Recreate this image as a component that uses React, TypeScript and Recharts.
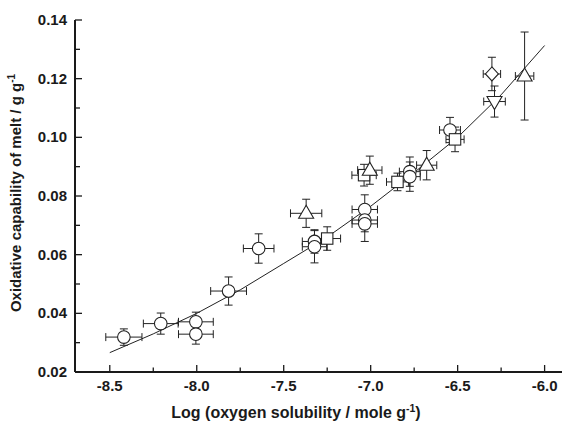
import { ScatterChart, Scatter, XAxis, YAxis, ErrorBar, Label } from 'recharts';

// [x, y, xErr, yErr]
const circles: [number, number, number, number][] = [
  [-8.419, 0.0319, 0.104, 0.0028],
  [-8.207, 0.0365, 0.1, 0.0036],
  [-8.005, 0.0371, 0.1, 0.0033],
  [-8.005, 0.0329, 0.1, 0.0034],
  [-7.817, 0.0476, 0.103, 0.0048],
  [-7.644, 0.0621, 0.088, 0.005],
  [-7.323, 0.0645, 0.07, 0.004],
  [-7.323, 0.0627, 0.07, 0.0055],
  [-7.034, 0.0754, 0.073, 0.005],
  [-7.034, 0.0718, 0.073, 0.004],
  [-7.034, 0.0705, 0.073, 0.006],
  [-6.775, 0.0883, 0.06, 0.005],
  [-6.775, 0.0866, 0.06, 0.005],
  [-6.544, 0.1025, 0.06, 0.0043],
];
const squares: [number, number, number, number][] = [
  [-7.25, 0.0655, 0.077, 0.004],
  [-7.038, 0.0871, 0.07, 0.0037],
  [-6.846, 0.0848, 0.063, 0.003],
  [-6.515, 0.0993, 0.052, 0.0042],
];
const trianglesUp: [number, number, number, number][] = [
  [-7.371, 0.0741, 0.09, 0.0048],
  [-7.005, 0.0888, 0.07, 0.0048],
  [-6.678, 0.0905, 0.058, 0.005],
  [-6.115, 0.1209, 0.053, 0.015],
];
const trianglesDown: [number, number, number, number][] = [[-6.288, 0.1122, 0.062, 0.0053]];
const diamonds: [number, number, number, number][] = [[-6.303, 0.1216, 0.05, 0.0057]];

// fitted curve, read at regular x positions
const fitX = [-8.5, -8.25, -8.0, -7.75, -7.5, -7.25, -7.0, -6.75, -6.5, -6.25, -6.0];
const fitY = [0.0266, 0.033, 0.04, 0.048, 0.057, 0.066, 0.0765, 0.088, 0.1, 0.1145, 0.1313];

const xTicks = [-8.5, -8.25, -8.0, -7.75, -7.5, -7.25, -7.0, -6.75, -6.5, -6.25, -6.0];
const xLabels = [-8.5, -8.0, -7.5, -7.0, -6.5, -6.0];
const yTicks = [0.02, 0.03, 0.04, 0.05, 0.06, 0.07, 0.08, 0.09, 0.1, 0.11, 0.12, 0.13, 0.14];
const yLabels = [0.02, 0.04, 0.06, 0.08, 0.1, 0.12, 0.14];

const W = 562;
const H = 424;
const PLOT_LEFT = 75;
const PLOT_TOP = 20;
const PLOT_BOTTOM = 372;
const FONT = '"Liberation Sans", Arial, Helvetica, sans-serif';
const INK = '#1a1a1a';

const toRows = (pts: [number, number, number, number][]) =>
  pts.map(([x, y, ex, ey]) => ({ x, y, ex, ey }));
const fitRows = fitX.map((x, i) => ({ x, y: fitY[i] }));

const has = (list: number[], v: number) => list.some((t) => Math.abs(t - v) < 1e-6);

const XTick = (props: any) => {
  const { x, payload } = props;
  const major = has(xLabels, payload.value);
  return (
    <g>
      <line x1={x} x2={x} y1={PLOT_BOTTOM} y2={PLOT_BOTTOM - (major ? 7 : 4.5)} stroke={INK} strokeWidth={1.3} />
      {major && (
        <text x={x} y={PLOT_BOTTOM + 19} textAnchor="middle" fontFamily={FONT} fontWeight="bold" fontSize={15} fill={INK}>
          {payload.value.toFixed(1)}
        </text>
      )}
    </g>
  );
};

const YTick = (props: any) => {
  const { y, payload } = props;
  const major = has(yLabels, payload.value);
  return (
    <g>
      <line x1={PLOT_LEFT} x2={PLOT_LEFT + (major ? 7 : 5)} y1={y} y2={y} stroke={INK} strokeWidth={1.3} />
      {major && (
        <text x={67} y={y + 5} textAnchor="end" fontFamily={FONT} fontWeight="bold" fontSize={15} fill={INK}>
          {payload.value.toFixed(2)}
        </text>
      )}
    </g>
  );
};

const renderXTitle = () => (
  <text x={296} y={418} textAnchor="middle" fontFamily={FONT} fontWeight="bold" fontSize={16} fill={INK}>
    Log (oxygen solubility / mole g
    <tspan dy={-6} fontSize={10.5}>-1</tspan>
    <tspan dy={6}>)</tspan>
  </text>
);

const renderYTitle = () => (
  <text
    transform="rotate(-90)"
    x={-193}
    y={21}
    textAnchor="middle"
    fontFamily={FONT}
    fontWeight="bold"
    fontSize={15}
    fill={INK}
  >
    Oxidative capability of melt / g g
    <tspan dy={-6} fontSize={10}>-1</tspan>
  </text>
);

const markerStyle = { fill: '#fff', stroke: '#222', strokeWidth: 1.1 };

const makeShape = (kind: string) => (props: any) => {
  const { cx, cy } = props;
  if (cx == null || cy == null) return <g />;
  switch (kind) {
    case 'circle':
      return <circle cx={cx} cy={cy} r={6.3} {...markerStyle} />;
    case 'square':
      return <rect x={cx - 5.7} y={cy - 5.7} width={11.4} height={11.4} {...markerStyle} />;
    case 'up':
      return <polygon points={`${cx},${cy - 8} ${cx + 7.5},${cy + 5} ${cx - 7.5},${cy + 5}`} {...markerStyle} />;
    case 'down':
      return <polygon points={`${cx},${cy + 8} ${cx + 7.5},${cy - 5} ${cx - 7.5},${cy - 5}`} {...markerStyle} />;
    case 'diamond':
      return <polygon points={`${cx},${cy - 7} ${cx + 6.5},${cy} ${cx},${cy + 7} ${cx - 6.5},${cy}`} {...markerStyle} />;
    default:
      return <g />;
  }
};

const groups: { name: string; kind: string; pts: [number, number, number, number][] }[] = [
  { name: 'circles', kind: 'circle', pts: circles },
  { name: 'squares', kind: 'square', pts: squares },
  { name: 'up', kind: 'up', pts: trianglesUp },
  { name: 'down', kind: 'down', pts: trianglesDown },
  { name: 'diamonds', kind: 'diamond', pts: diamonds },
];

export default function App() {
  return (
    <div style={{ position: 'absolute', left: 0, top: 0, background: '#fff' }}>
      <ScatterChart width={W} height={H} margin={{ top: PLOT_TOP, right: 0, bottom: 0, left: 0 }}>
        <XAxis
          type="number"
          dataKey="x"
          domain={[-8.7, -5.9]}
          ticks={xTicks}
          interval={0}
          height={H - PLOT_BOTTOM}
          tick={<XTick />}
          tickLine={false}
          axisLine={{ stroke: INK, strokeWidth: 2 }}
          allowDataOverflow
        >
          <Label content={renderXTitle} />
        </XAxis>
        <YAxis
          type="number"
          dataKey="y"
          domain={[0.02, 0.14]}
          ticks={yTicks}
          interval={0}
          width={PLOT_LEFT}
          tick={<YTick />}
          tickLine={false}
          axisLine={{ stroke: INK, strokeWidth: 2 }}
          allowDataOverflow
        >
          <Label content={renderYTitle} />
        </YAxis>
        <Scatter
          name="fit"
          data={fitRows}
          line={{ stroke: '#222', strokeWidth: 1 }}
          shape={() => <g />}
          isAnimationActive={false}
        />
        {groups.map((g) => (
          <Scatter
            key={g.name}
            name={g.name}
            data={toRows(g.pts)}
            shape={makeShape(g.kind)}
            isAnimationActive={false}
          >
            <ErrorBar dataKey="ex" direction="x" width={4} stroke="#222" strokeWidth={1} />
            <ErrorBar dataKey="ey" direction="y" width={4} stroke="#222" strokeWidth={1} />
          </Scatter>
        ))}
      </ScatterChart>
    </div>
  );
}
